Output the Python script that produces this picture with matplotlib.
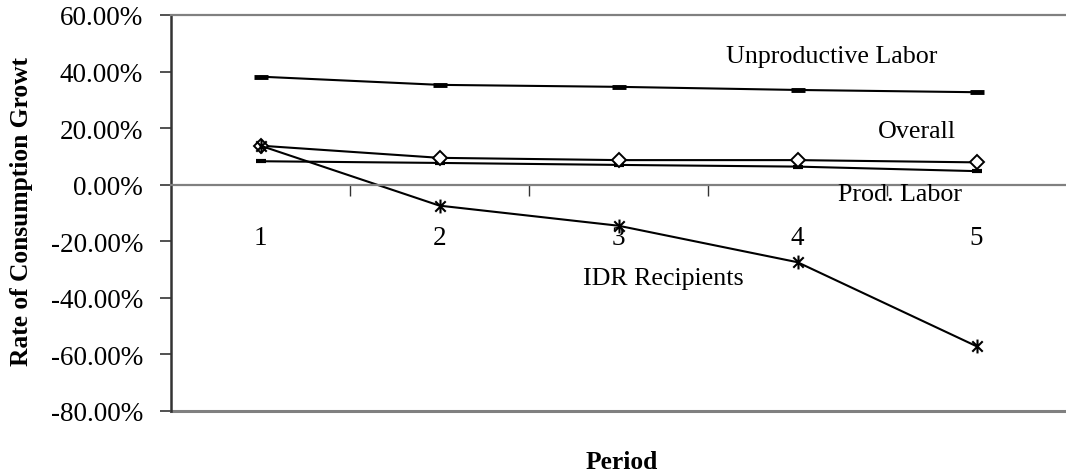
import matplotlib
matplotlib.use("Agg")
import matplotlib.pyplot as plt
from matplotlib.path import Path
from matplotlib.ticker import FixedLocator, FuncFormatter, NullFormatter

plt.rcParams['font.family'] = ['Liberation Serif', 'DejaVu Serif']

periods = [1, 2, 3, 4, 5]
unproductive = [38.2, 35.3, 34.6, 33.5, 32.7]
overall = [13.8, 9.5, 8.7, 8.7, 7.9]
prod_labor = [8.3, 7.7, 7.0, 6.4, 4.8]
idr = [13.8, -7.4, -14.5, -27.4, -57.1]
y_ticks = [60, 40, 20, 0, -20, -40, -60, -80]

# Excel-style star marker: vertical stroke plus an X
star = Path([(0, -1), (0, 1), (-0.75, -0.75), (0.75, 0.75), (-0.75, 0.75), (0.75, -0.75)],
            [Path.MOVETO, Path.LINETO, Path.MOVETO, Path.LINETO, Path.MOVETO, Path.LINETO])

fig = plt.figure(figsize=(10.66, 4.77), dpi=100)
ax = fig.add_axes([171/1066, 1-412/477, 895/1066, 396/477])

lw = 1.5
ax.plot(periods, unproductive, color='black', lw=lw, marker='_', markersize=9.5, mew=3.5)
ax.plot(periods, prod_labor, color='black', lw=lw, marker='_', markersize=6.5, mew=3)
ax.plot(periods, overall, color='black', lw=lw, marker='D', markersize=7.5,
        mfc='white', mec='black', mew=1.4)
ax.plot(periods, idr, color='black', lw=lw, marker=star, markersize=10, mew=1.5)

ax.set_xlim(0.5, 5.5)
ax.set_ylim(-80, 60)

# y axis
ax.yaxis.set_major_locator(FixedLocator(y_ticks))
ax.yaxis.set_major_formatter(FuncFormatter(lambda v, p: f"{v:.2f}%"))
ax.tick_params(axis='y', direction='out', length=8, width=1.2, pad=12,
               labelsize=19.5, color='#333333')

# x axis at zero
ax.spines['bottom'].set_position(('data', 0))
ax.spines['bottom'].set_color('#808080')
ax.spines['bottom'].set_linewidth(1.6)
ax.xaxis.set_major_locator(FixedLocator([1.5, 2.5, 3.5, 4.5]))
ax.xaxis.set_major_formatter(NullFormatter())
ax.xaxis.set_minor_locator(FixedLocator(periods))
ax.xaxis.set_minor_formatter(FuncFormatter(lambda v, p: f"{int(round(v))}"))
ax.tick_params(axis='x', which='major', direction='out', length=8, width=1.0, color='#333333')
ax.tick_params(axis='x', which='minor', length=0, pad=29, labelsize=19.5)

ax.spines['left'].set_color('#333333')
ax.spines['left'].set_linewidth(1.8)
ax.spines['top'].set_color('#808080')
ax.spines['top'].set_linewidth(1.6)
ax.spines['right'].set_visible(False)
# bottom border of plot area
ax.axhline(-80, color='#808080', lw=2.2, clip_on=False)

# series labels
ax.text(4.19, 45.5, "Unproductive Labor", fontsize=18.7, ha='center', va='center')
ax.text(4.67, 19.0, "Overall", fontsize=18.7, ha='center', va='center')
ax.text(4.57, -3.3, "Prod. Labor", fontsize=18.7, ha='center', va='center')
ax.text(3.25, -33.0, "IDR Recipients", fontsize=18.7, ha='center', va='center')

fig.text(622/1066, 1-463/477, "Period", fontsize=18.4, fontweight='bold',
         ha='center', va='center')
fig.text(22/1066, 1-212/477, "Rate of Consumption Growt", fontsize=18.4,
         fontweight='bold', rotation=90, ha='center', va='center')

fig.savefig("out.png", dpi=100)
